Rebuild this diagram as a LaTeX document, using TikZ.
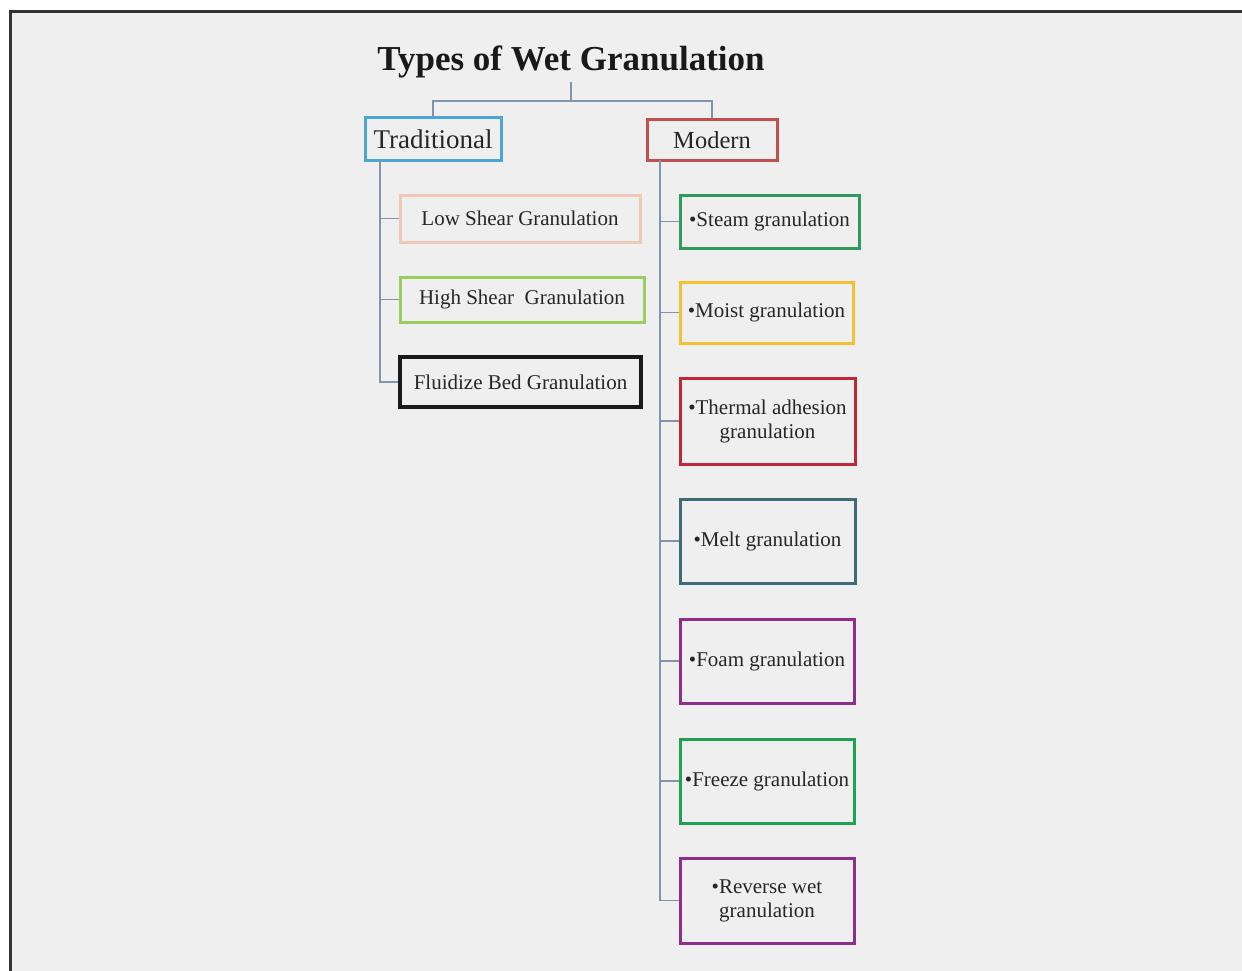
\documentclass[tikz,border=0pt]{standalone}
\usepackage{fontspec}
\setmainfont{Liberation Serif}
\usetikzlibrary{positioning}
\definecolor{bgpanel}{HTML}{EFEFEF}
\definecolor{linkcol}{HTML}{8094B0}
\definecolor{tradcol}{HTML}{4BA6D6}
\definecolor{modcol}{HTML}{C0504D}
\definecolor{lowcol}{HTML}{F0C8B8}
\definecolor{highcol}{HTML}{9ACD60}
\definecolor{fluidcol}{HTML}{1A1A1A}
\definecolor{steamcol}{HTML}{2E9A5E}
\definecolor{moistcol}{HTML}{F2C230}
\definecolor{thermcol}{HTML}{C0283A}
\definecolor{meltcol}{HTML}{3E6B75}
\definecolor{foamcol}{HTML}{8E2D8E}
\definecolor{freezecol}{HTML}{1FA352}
\definecolor{inkcol}{HTML}{262626}

\begin{document}
\begin{tikzpicture}[x=1pt,y=-1pt,every node/.style={text=inkcol,font=\fontsize{21}{24}\selectfont},
  box/.style={rectangle,draw,line width=3pt,inner sep=0pt,align=center},
  link/.style={draw=linkcol,line width=1.6pt}]
\useasboundingbox (0,0) rectangle (1242,971);
\fill[white] (0,0) rectangle (1242,971);
\fill[bgpanel] (10,12) rectangle (1242,971);
\draw[line width=3pt,black!80] (10,971)--(10,12)--(1242,12);
% heading
\node[font=\bfseries\fontsize{35}{40}\selectfont,text=black!90](title) at (571,62){Types of Wet Granulation};
\node[box,draw=tradcol,minimum width=136pt,minimum height=42pt,font=\fontsize{27}{30}\selectfont](trad) at (433,139){Traditional};
\node[box,draw=modcol,minimum width=130pt,minimum height=40pt,font=\fontsize{24.5}{28}\selectfont](mod) at (712,140){Modern};
\coordinate(fork) at (571,101);
\draw[link](title.south)--(fork);\draw[link](trad.north)|-(fork)-|(mod.north);
% traditional branch
\node[box,draw=lowcol,minimum width=240pt,minimum height=47pt](low) at (520,218.5){Low Shear Granulation};
\node[box,draw=highcol,minimum width=244pt,minimum height=45pt](high) at (522,299.5){High Shear\ \ Granulation};
\node[box,draw=fluidcol,line width=3.5pt,minimum width=241pt,minimum height=50pt](fluid) at (520.5,382){Fluidize Bed Granulation};
\coordinate(tspine) at (380,160);
\foreach \t in {low,high,fluid}{\draw[link](tspine)|-(\t.west);}
% modern branch
\node[box,draw=steamcol,minimum width=179pt,minimum height=53pt](steam) at (769.5,221.5){\textbullet Steam granulation};
\node[box,draw=moistcol,minimum width=173pt,minimum height=61pt](moist) at (766.5,312.5){\textbullet Moist granulation};
\node[box,draw=thermcol,minimum width=175pt,minimum height=86pt](therm) at (767.5,421){\textbullet Thermal adhesion\\granulation};
\node[box,draw=meltcol,minimum width=175pt,minimum height=84pt](melt) at (767.5,541){\textbullet Melt granulation};
\node[box,draw=foamcol,minimum width=174pt,minimum height=84pt](foam) at (767,661){\textbullet Foam granulation};
\node[box,draw=freezecol,minimum width=174pt,minimum height=84pt](freeze) at (767,781){\textbullet Freeze granulation};
\node[box,draw=foamcol,minimum width=174pt,minimum height=85pt](rev) at (767,900.5){\textbullet Reverse wet\\granulation};
\coordinate(mspine) at (660,160);
\foreach \t in {steam,moist,therm,melt,foam,freeze,rev}{\draw[link](mspine)|-(\t.west);}
\end{tikzpicture}
\end{document}
